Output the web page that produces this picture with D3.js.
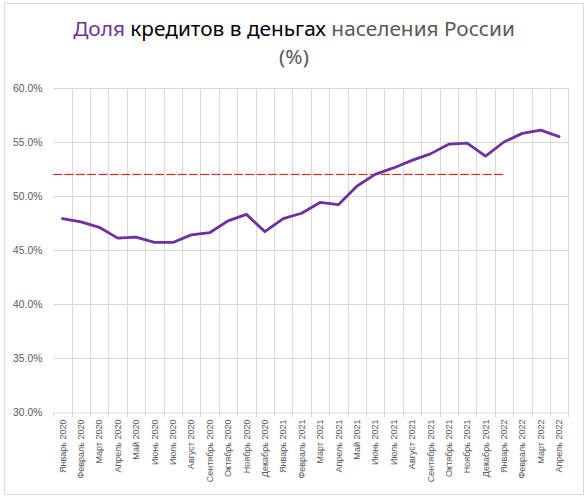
<!DOCTYPE html>
<html>
<head>
<meta charset="utf-8">
<script src="https://cdn.jsdelivr.net/npm/d3@7"></script>
<style>
  body { margin: 0; background: #fff; }
  svg { display: block; }
</style>
</head>
<body>
<svg width="588" height="500"></svg>
<script>
const months = ["Январь", "Февраль", "Март", "Апрель", "Май", "Июнь", "Июль", "Август",
                "Сентябрь", "Октябрь", "Ноябрь", "Декабрь"];
const categories = [];
for (let y = 2020; y <= 2022; y++) {
    months.forEach(m => categories.push(m + " " + y));
}
categories.splice(28); // до Апреля 2022

const shares = [47.9, 47.6, 47.1, 46.1, 46.2, 45.7, 45.7, 46.4, 46.6, 47.7, 48.3, 46.7,
                47.9, 48.4, 49.4, 49.2, 50.9, 52.0, 52.6, 53.3, 53.9, 54.8, 54.9, 53.7,
                55.0, 55.8, 56.1, 55.5];

const yTicks = [30, 35, 40, 45, 50, 55, 60];
const refLevel = 52;
const refEnd = "Январь 2022";

const svg = d3.select("svg");
const width = 588, height = 500;
const margin = { left: 53.3, right: 588 - 568.3, top: 88, bottom: 500 - 412 };

// рамка диаграммы
svg.append("rect")
    .attr("x", 4.5).attr("y", 3.5)
    .attr("width", 579).attr("height", 491)
    .style("fill", "#fff")
    .style("stroke", "#d9d9d9");

const x = d3.scaleBand()
            .domain(categories)
            .range([margin.left, width - margin.right]);

const y = d3.scaleLinear()
            .domain([30, 60])
            .range([height - margin.bottom, margin.top]);

// сетка
svg.append("g")
    .selectAll("line")
    .data(yTicks.slice(1))
    .enter()
    .append("line")
    .attr("x1", margin.left).attr("x2", width - margin.right)
    .attr("y1", d => Math.round(y(d)) + 0.5).attr("y2", d => Math.round(y(d)) + 0.5)
    .style("stroke", "#d9d9d9");

svg.append("g")
    .selectAll("line")
    .data(categories.slice(1).concat(["__end"]))
    .enter()
    .append("line")
    .attr("x1", d => Math.round(d === "__end" ? x.range()[1] : x(d)) + 0.5)
    .attr("x2", d => Math.round(d === "__end" ? x.range()[1] : x(d)) + 0.5)
    .attr("y1", margin.top).attr("y2", height - margin.bottom)
    .style("stroke", "#d9d9d9");

// ось Y
const yAxis = svg.append("g")
    .attr("transform", `translate(${margin.left},0)`)
    .call(d3.axisLeft(y).tickValues(yTicks).tickSize(0).tickPadding(11)
            .tickFormat(d => d.toFixed(1) + "%"));
yAxis.select(".domain").remove();
yAxis.selectAll("text")
    .style("font-family", "'Liberation Sans', Arial, sans-serif")
    .style("font-size", "10.3px")
    .style("fill", "#595959");

// ось X
const xAxis = svg.append("g")
    .attr("transform", `translate(0,${Math.round(height - margin.bottom) + 0.5})`)
    .call(d3.axisBottom(x).tickSize(0));
xAxis.select(".domain").style("stroke", "#d9d9d9");
xAxis.selectAll("text")
    .attr("transform", "rotate(-90)")
    .attr("x", -7).attr("y", 0).attr("dy", "0.35em")
    .style("text-anchor", "end")
    .style("font-family", "'Liberation Sans', Arial, sans-serif")
    .style("font-size", "9px")
    .style("fill", "#595959");

svg.append("g")
    .selectAll("line")
    .data(categories.concat(["__end"]))
    .enter()
    .append("line")
    .attr("x1", d => Math.round(d === "__end" ? x.range()[1] : x(d)) + 0.5)
    .attr("x2", d => Math.round(d === "__end" ? x.range()[1] : x(d)) + 0.5)
    .attr("y1", Math.round(y(30))).attr("y2", Math.round(y(30)) + 5)
    .style("stroke", "#d9d9d9");

// пороговая линия
svg.append("line")
    .attr("x1", margin.left)
    .attr("x2", x(refEnd) + x.bandwidth() / 2)
    .attr("y1", y(refLevel)).attr("y2", y(refLevel))
    .style("stroke", "#ff0000")
    .style("stroke-width", 1)
    .style("stroke-dasharray", "9,2.3");

// линия данных
const line = d3.line()
    .x((d, i) => x(categories[i]) + x.bandwidth() / 2)
    .y(d => y(d));

svg.append("path")
    .datum(shares)
    .attr("d", line)
    .style("fill", "none")
    .style("stroke", "#7030a0")
    .style("stroke-width", 2.8)
    .style("stroke-linejoin", "round")
    .style("stroke-linecap", "round");

// заголовок
const title = svg.append("text")
    .attr("x", width / 2)
    .attr("y", 36)
    .style("text-anchor", "middle")
    .style("font-family", "'Noto Sans', 'Open Sans', sans-serif")
    .style("font-size", "20.8px");
title.append("tspan").text("Доля").style("fill", "#7030a0");
title.append("tspan").text(" кредитов в деньгах").style("fill", "#000");
title.append("tspan").text(" населения России").style("fill", "#595959");

svg.append("text")
    .attr("x", width / 2)
    .attr("y", 64)
    .style("text-anchor", "middle")
    .style("font-family", "'Noto Sans', 'Open Sans', sans-serif")
    .style("font-size", "20.8px")
    .style("fill", "#595959")
    .text("(%)");
</script>
</body>
</html>
